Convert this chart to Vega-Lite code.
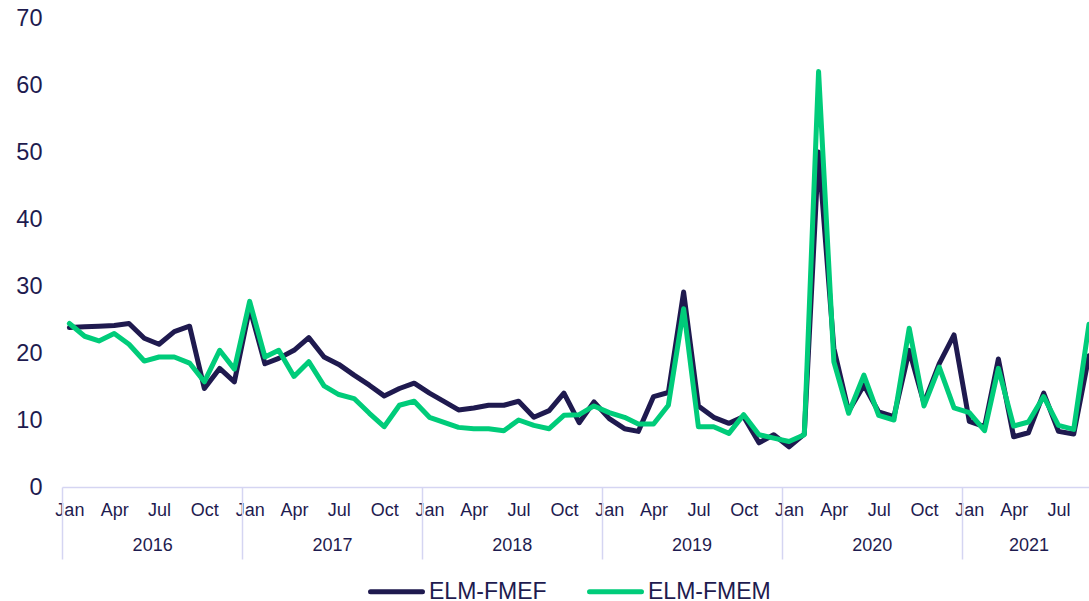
{
  "$schema": "https://vega.github.io/schema/vega-lite/v6.json",
  "autosize": "none",
  "padding": {"left": 62, "top": 18, "right": 0, "bottom": 114},
  "width": 1027,
  "height": 469,
  "background": "white",
  "config": {
    "view": {"stroke": null},
    "font": "Liberation Sans",
    "axis": {"labelFont": "Liberation Sans", "labelColor": "#1e1b4f", "grid": false, "title": null, "labelFlush": false, "labelOverlap": false, "labelBound": false},
    "legend": {"labelFont": "Liberation Sans"}
  },
  "data": {
    "values": [
      {"month": "2016-01-16", "ELM-FMEF": 23.8, "ELM-FMEM": 24.4},
      {"month": "2016-02-16", "ELM-FMEF": 23.9, "ELM-FMEM": 22.5},
      {"month": "2016-03-16", "ELM-FMEF": 24.0, "ELM-FMEM": 21.8},
      {"month": "2016-04-16", "ELM-FMEF": 24.1, "ELM-FMEM": 22.9},
      {"month": "2016-05-16", "ELM-FMEF": 24.4, "ELM-FMEM": 21.3},
      {"month": "2016-06-16", "ELM-FMEF": 22.2, "ELM-FMEM": 18.8},
      {"month": "2016-07-16", "ELM-FMEF": 21.3, "ELM-FMEM": 19.4},
      {"month": "2016-08-16", "ELM-FMEF": 23.2, "ELM-FMEM": 19.4},
      {"month": "2016-09-16", "ELM-FMEF": 24.0, "ELM-FMEM": 18.5},
      {"month": "2016-10-16", "ELM-FMEF": 14.7, "ELM-FMEM": 15.7},
      {"month": "2016-11-16", "ELM-FMEF": 17.7, "ELM-FMEM": 20.4},
      {"month": "2016-12-16", "ELM-FMEF": 15.7, "ELM-FMEM": 17.6},
      {"month": "2017-01-16", "ELM-FMEF": 26.7, "ELM-FMEM": 27.7},
      {"month": "2017-02-16", "ELM-FMEF": 18.4, "ELM-FMEM": 19.4},
      {"month": "2017-03-16", "ELM-FMEF": 19.2, "ELM-FMEM": 20.4},
      {"month": "2017-04-16", "ELM-FMEF": 20.4, "ELM-FMEM": 16.5},
      {"month": "2017-05-16", "ELM-FMEF": 22.3, "ELM-FMEM": 18.7},
      {"month": "2017-06-16", "ELM-FMEF": 19.4, "ELM-FMEM": 15.1},
      {"month": "2017-07-16", "ELM-FMEF": 18.3, "ELM-FMEM": 13.8},
      {"month": "2017-08-16", "ELM-FMEF": 16.7, "ELM-FMEM": 13.2},
      {"month": "2017-09-16", "ELM-FMEF": 15.2, "ELM-FMEM": 11.0},
      {"month": "2017-10-16", "ELM-FMEF": 13.6, "ELM-FMEM": 9.0},
      {"month": "2017-11-16", "ELM-FMEF": 14.7, "ELM-FMEM": 12.2},
      {"month": "2017-12-16", "ELM-FMEF": 15.5, "ELM-FMEM": 12.8},
      {"month": "2018-01-16", "ELM-FMEF": 14.0, "ELM-FMEM": 10.4},
      {"month": "2018-02-16", "ELM-FMEF": 12.7, "ELM-FMEM": 9.6},
      {"month": "2018-03-16", "ELM-FMEF": 11.5, "ELM-FMEM": 8.9},
      {"month": "2018-04-16", "ELM-FMEF": 11.8, "ELM-FMEM": 8.7},
      {"month": "2018-05-16", "ELM-FMEF": 12.2, "ELM-FMEM": 8.7},
      {"month": "2018-06-16", "ELM-FMEF": 12.2, "ELM-FMEM": 8.4},
      {"month": "2018-07-16", "ELM-FMEF": 12.8, "ELM-FMEM": 10.0},
      {"month": "2018-08-16", "ELM-FMEF": 10.4, "ELM-FMEM": 9.2},
      {"month": "2018-09-16", "ELM-FMEF": 11.4, "ELM-FMEM": 8.7},
      {"month": "2018-10-16", "ELM-FMEF": 14.0, "ELM-FMEM": 10.7},
      {"month": "2018-11-16", "ELM-FMEF": 9.6, "ELM-FMEM": 10.8},
      {"month": "2018-12-16", "ELM-FMEF": 12.7, "ELM-FMEM": 12.1},
      {"month": "2019-01-16", "ELM-FMEF": 10.2, "ELM-FMEM": 11.1},
      {"month": "2019-02-16", "ELM-FMEF": 8.7, "ELM-FMEM": 10.4},
      {"month": "2019-03-16", "ELM-FMEF": 8.3, "ELM-FMEM": 9.4},
      {"month": "2019-04-16", "ELM-FMEF": 13.5, "ELM-FMEM": 9.4},
      {"month": "2019-05-16", "ELM-FMEF": 14.1, "ELM-FMEM": 12.2},
      {"month": "2019-06-16", "ELM-FMEF": 29.1, "ELM-FMEM": 26.6},
      {"month": "2019-07-16", "ELM-FMEF": 12.1, "ELM-FMEM": 9.0},
      {"month": "2019-08-16", "ELM-FMEF": 10.4, "ELM-FMEM": 9.0},
      {"month": "2019-09-16", "ELM-FMEF": 9.5, "ELM-FMEM": 8.0},
      {"month": "2019-10-16", "ELM-FMEF": 10.5, "ELM-FMEM": 10.8},
      {"month": "2019-11-16", "ELM-FMEF": 6.6, "ELM-FMEM": 7.8},
      {"month": "2019-12-16", "ELM-FMEF": 7.8, "ELM-FMEM": 7.3},
      {"month": "2020-01-16", "ELM-FMEF": 6.0, "ELM-FMEM": 6.8},
      {"month": "2020-02-16", "ELM-FMEF": 7.9, "ELM-FMEM": 7.8},
      {"month": "2020-03-16", "ELM-FMEF": 50.0, "ELM-FMEM": 62.0},
      {"month": "2020-04-16", "ELM-FMEF": 20.7, "ELM-FMEM": 18.7},
      {"month": "2020-05-16", "ELM-FMEF": 11.3, "ELM-FMEM": 11.0},
      {"month": "2020-06-16", "ELM-FMEF": 15.2, "ELM-FMEM": 16.7},
      {"month": "2020-07-16", "ELM-FMEF": 11.2, "ELM-FMEM": 10.7},
      {"month": "2020-08-16", "ELM-FMEF": 10.5, "ELM-FMEM": 10.0},
      {"month": "2020-09-16", "ELM-FMEF": 20.4, "ELM-FMEM": 23.7},
      {"month": "2020-10-16", "ELM-FMEF": 12.5, "ELM-FMEM": 12.1},
      {"month": "2020-11-16", "ELM-FMEF": 18.4, "ELM-FMEM": 17.9},
      {"month": "2020-12-16", "ELM-FMEF": 22.7, "ELM-FMEM": 11.8},
      {"month": "2021-01-16", "ELM-FMEF": 9.8, "ELM-FMEM": 11.1},
      {"month": "2021-02-16", "ELM-FMEF": 9.0, "ELM-FMEM": 8.4},
      {"month": "2021-03-16", "ELM-FMEF": 19.1, "ELM-FMEM": 17.7},
      {"month": "2021-04-16", "ELM-FMEF": 7.5, "ELM-FMEM": 9.1},
      {"month": "2021-05-16", "ELM-FMEF": 8.1, "ELM-FMEM": 9.7},
      {"month": "2021-06-16", "ELM-FMEF": 14.0, "ELM-FMEM": 13.5},
      {"month": "2021-07-16", "ELM-FMEF": 8.3, "ELM-FMEM": 9.2},
      {"month": "2021-08-16", "ELM-FMEF": 7.9, "ELM-FMEM": 8.6},
      {"month": "2021-09-16", "ELM-FMEF": 19.6, "ELM-FMEM": 24.3}
    ]
  },
  "transform": [{"fold": ["ELM-FMEF", "ELM-FMEM"], "as": ["series", "value"]}],
  "encoding": {
    "y": {
      "field": "value",
      "type": "quantitative",
      "scale": {"domain": [0, 70], "nice": false, "zero": true},
      "axis": {"values": [0, 10, 20, 30, 40, 50, 60, 70], "domain": false, "ticks": false, "labelPadding": 20, "labelFontSize": 23.5, "labelColor": "#1e1b4f"}
    }
  },
  "layer": [
    {
      "mark": {"type": "line", "strokeWidth": 5, "strokeJoin": "round", "strokeCap": "round"},
      "encoding": {
        "x": {
          "field": "month",
          "type": "temporal",
          "scale": {"type": "utc", "domain": [{"year": 2016, "month": 1, "date": 1, "utc": true}, {"year": 2021, "month": 9, "date": 16, "utc": true}]},
          "axis": {
            "orient": "bottom",
            "values": [
              {"year": 2016, "month": 1, "date": 16, "utc": true}, {"year": 2016, "month": 4, "date": 16, "utc": true}, {"year": 2016, "month": 7, "date": 16, "utc": true}, {"year": 2016, "month": 10, "date": 16, "utc": true},
              {"year": 2017, "month": 1, "date": 16, "utc": true}, {"year": 2017, "month": 4, "date": 16, "utc": true}, {"year": 2017, "month": 7, "date": 16, "utc": true}, {"year": 2017, "month": 10, "date": 16, "utc": true},
              {"year": 2018, "month": 1, "date": 16, "utc": true}, {"year": 2018, "month": 4, "date": 16, "utc": true}, {"year": 2018, "month": 7, "date": 16, "utc": true}, {"year": 2018, "month": 10, "date": 16, "utc": true},
              {"year": 2019, "month": 1, "date": 16, "utc": true}, {"year": 2019, "month": 4, "date": 16, "utc": true}, {"year": 2019, "month": 7, "date": 16, "utc": true}, {"year": 2019, "month": 10, "date": 16, "utc": true},
              {"year": 2020, "month": 1, "date": 16, "utc": true}, {"year": 2020, "month": 4, "date": 16, "utc": true}, {"year": 2020, "month": 7, "date": 16, "utc": true}, {"year": 2020, "month": 10, "date": 16, "utc": true},
              {"year": 2021, "month": 1, "date": 16, "utc": true}, {"year": 2021, "month": 4, "date": 16, "utc": true}, {"year": 2021, "month": 7, "date": 16, "utc": true}
            ],
            "format": "%b",
            "ticks": false,
            "tickSize": 0,
            "domain": true,
            "domainColor": "#d5d5f2",
            "domainWidth": 1.5,
            "labelFontSize": 18,
            "labelBaseline": "middle",
            "labelPadding": 23,
            "labelColor": "#1e1b4f"
          }
        },
        "color": {
          "field": "series",
          "type": "nominal",
          "scale": {"domain": ["ELM-FMEF", "ELM-FMEM"], "range": ["#1f1a4f", "#00cc7a"]},
          "legend": {
            "title": null,
            "orient": "none",
            "direction": "horizontal",
            "legendX": 306,
            "legendY": 545,
            "padding": 0,
            "symbolType": "stroke",
            "symbolStrokeWidth": 5,
            "symbolSize": 2700,
            "labelFontSize": 23,
            "labelColor": "#1e1b4f",
            "labelOffset": 4,
            "columnPadding": 32,
            "encode": {"symbols": {"update": {"strokeCap": {"value": "round"}}}}
          }
        }
      }
    },
    {
      "mark": {"type": "line", "opacity": 0},
      "encoding": {
        "x": {
          "field": "month",
          "type": "temporal",
          "scale": {"type": "utc", "domain": [{"year": 2016, "month": 1, "date": 1, "utc": true}, {"year": 2021, "month": 9, "date": 16, "utc": true}]},
          "axis": {
            "orient": "bottom",
            "values": [
              {"year": 2016, "month": 1, "date": 1, "utc": true}, {"year": 2017, "month": 1, "date": 1, "utc": true}, {"year": 2018, "month": 1, "date": 1, "utc": true},
              {"year": 2019, "month": 1, "date": 1, "utc": true}, {"year": 2020, "month": 1, "date": 1, "utc": true}, {"year": 2021, "month": 1, "date": 1, "utc": true}
            ],
            "labels": false,
            "domain": false,
            "ticks": true,
            "tickSize": 72,
            "tickWidth": 1.5,
            "tickColor": "#d5d5f2"
          }
        },
        "detail": {"field": "series"}
      }
    },
    {
      "mark": {"type": "line", "opacity": 0},
      "encoding": {
        "x": {
          "field": "month",
          "type": "temporal",
          "scale": {"type": "utc", "domain": [{"year": 2016, "month": 1, "date": 1, "utc": true}, {"year": 2021, "month": 9, "date": 16, "utc": true}]},
          "axis": {
            "orient": "bottom",
            "values": [
              {"year": 2016, "month": 7, "date": 2, "utc": true}, {"year": 2017, "month": 7, "date": 2, "utc": true}, {"year": 2018, "month": 7, "date": 2, "utc": true},
              {"year": 2019, "month": 7, "date": 2, "utc": true}, {"year": 2020, "month": 7, "date": 2, "utc": true}, {"year": 2021, "month": 5, "date": 16, "utc": true}
            ],
            "format": "%Y",
            "domain": false,
            "ticks": false,
            "tickSize": 0,
            "labelFontSize": 18,
            "labelBaseline": "middle",
            "labelPadding": 58,
            "labelColor": "#1e1b4f"
          }
        },
        "detail": {"field": "series"}
      }
    }
  ],
  "resolve": {"axis": {"x": "independent"}}
}
